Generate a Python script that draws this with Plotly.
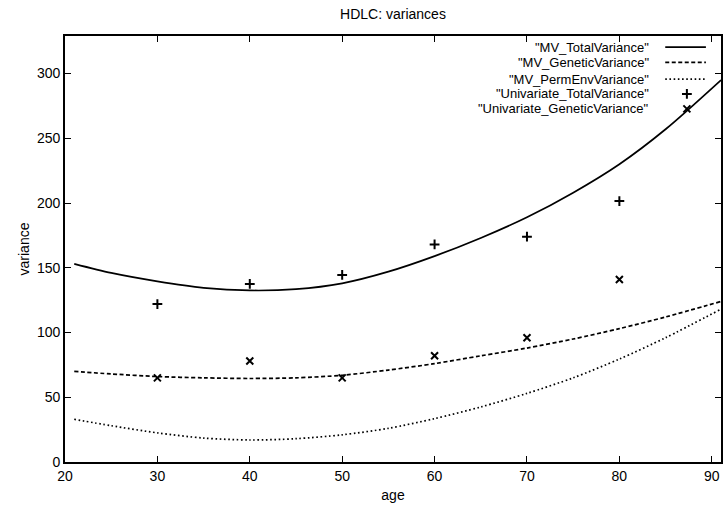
import plotly.graph_objects as go

# ---- data ----
ages_curve = [21, 25, 30, 35, 40, 45, 50, 55, 60, 65, 70, 75, 80, 85, 91]
mv_total = [153, 146, 139.5, 134.5, 132.5, 133.5, 138, 147, 159, 173, 189, 208, 230, 257, 295]
mv_genetic = [70, 68, 66, 65, 64.5, 65, 67, 71, 76, 82, 88, 95, 103, 112, 124]
mv_permenv = [33, 28, 22.5, 18.5, 17, 18, 21, 26, 33.5, 42.5, 53, 65, 79.5, 96, 118]

ages_points = [30, 40, 50, 60, 70, 80]
uni_total = [122, 137.5, 144.5, 168, 174, 201.5]
uni_genetic = [65, 78, 65, 82, 96, 141]

series_names = ['"MV_TotalVariance"', '"MV_GeneticVariance"', '"MV_PermEnvVariance"',
                '"Univariate_TotalVariance"', '"Univariate_GeneticVariance"']

FONT = "Liberation Sans, Arial, Helvetica, sans-serif"
BLACK = "#000000"
DASH_STYLES = ["solid", "4px,2.5px", "1.6px,2.6px"]

fig = go.Figure()

curves = [mv_total, mv_genetic, mv_permenv]
for name, vals, dash in zip(series_names[:3], curves, DASH_STYLES):
    fig.add_trace(go.Scatter(x=ages_curve, y=vals, mode="lines", name=name,
                             line=dict(color=BLACK, width=1.7, dash=dash, shape="spline", smoothing=0.8),
                             showlegend=False))

fig.add_trace(go.Scatter(x=ages_points, y=uni_total, mode="markers", name=series_names[3],
                         marker=dict(symbol="cross-thin", size=7, color=BLACK,
                                     line=dict(color=BLACK, width=2)),
                         showlegend=False))
fig.add_trace(go.Scatter(x=ages_points, y=uni_genetic, mode="markers", name=series_names[4],
                         marker=dict(symbol="x-thin", size=7, color=BLACK,
                                     line=dict(color=BLACK, width=2)),
                         showlegend=False))

# ---- gnuplot-style key (text right-aligned, sample on the right) ----
row_y = [0.974, 0.938, 0.899, 0.864, 0.829]
text_x = 0.894
samp_x0, samp_x1, mark_x = 0.915, 0.977, 0.948
annotations = []
for i, name in enumerate(series_names):
    annotations.append(dict(x=text_x, y=row_y[i], xref="paper", yref="paper", text=name,
                            showarrow=False, xanchor="right", yanchor="middle",
                            font=dict(family=FONT, size=13, color=BLACK)))
for i in range(3):
    fig.add_trace(go.Scatter(x=[samp_x0, samp_x1], y=[row_y[i], row_y[i]], mode="lines",
                             xaxis="x2", yaxis="y2", showlegend=False, hoverinfo="skip",
                             line=dict(color=BLACK, width=1.7, dash=DASH_STYLES[i])))
fig.add_trace(go.Scatter(x=[mark_x], y=[row_y[3]], mode="markers", xaxis="x2", yaxis="y2",
                         showlegend=False, hoverinfo="skip",
                         marker=dict(symbol="cross-thin", size=7, line=dict(color=BLACK, width=2))))
fig.add_trace(go.Scatter(x=[mark_x], y=[row_y[4]], mode="markers", xaxis="x2", yaxis="y2",
                         showlegend=False, hoverinfo="skip",
                         marker=dict(symbol="x-thin", size=7, line=dict(color=BLACK, width=2))))

axis_common = dict(showline=True, linecolor=BLACK, linewidth=1.6, mirror="ticks",
                   ticks="inside", ticklen=6, tickwidth=1.3, tickcolor=BLACK,
                   showgrid=False, zeroline=False,
                   tickfont=dict(family=FONT, size=14, color=BLACK))

fig.update_layout(
    width=727, height=513,
    margin=dict(l=65, r=4, t=36, b=51),
    paper_bgcolor="white", plot_bgcolor="white",
    font=dict(family=FONT, color=BLACK),
    title=dict(text="HDLC: variances", x=0.5, xref="paper", y=1 - 14 / 513, yref="container",
               xanchor="center", yanchor="middle", font=dict(family=FONT, size=14, color=BLACK)),
    xaxis=dict(range=[20, 91], tick0=20, dtick=10,
               title=dict(text="age", standoff=8, font=dict(family=FONT, size=14, color=BLACK)),
               **axis_common),
    yaxis=dict(range=[0, 329], tick0=0, dtick=50,
               title=dict(text="variance", standoff=4, font=dict(family=FONT, size=14, color=BLACK)),
               **axis_common),
    xaxis2=dict(overlaying="x", range=[0, 1], visible=False, fixedrange=True),
    yaxis2=dict(overlaying="y", range=[0, 1], visible=False, fixedrange=True),
    annotations=annotations,
)

fig.write_html("out.html")
